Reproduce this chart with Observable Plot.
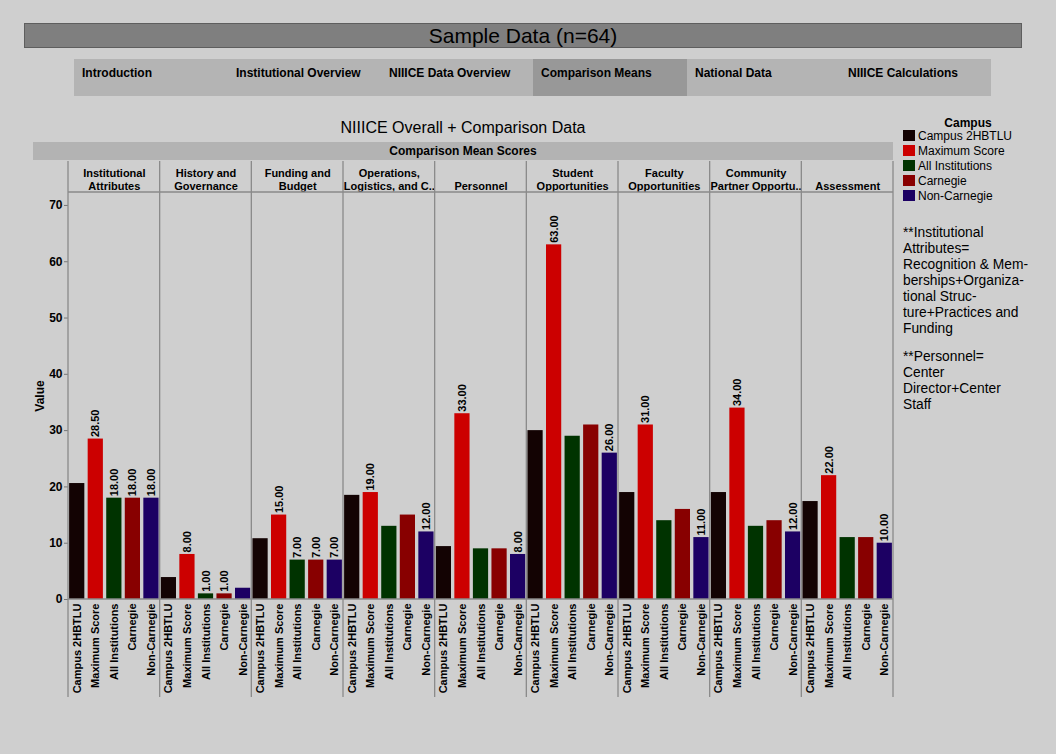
<!DOCTYPE html>
<html>
<head>
<meta charset="utf-8">
<script src="https://cdn.jsdelivr.net/npm/d3@7"></script>
<script src="https://cdn.jsdelivr.net/npm/@observablehq/plot@0.6"></script>
<style>
  html, body { margin: 0; padding: 0; background: #cfcfcf; }
  body { font-family: "Liberation Sans", Arial, Helvetica, sans-serif; color: #000; }
  #page { position: relative; width: 1056px; height: 754px; overflow: hidden; background: #cfcfcf; }
  .banner { position: absolute; left: 24px; top: 23px; width: 998px; height: 25px; box-sizing: border-box;
    background: #7f7f7f; border: 1px solid #5e5e5e; text-align: center; font-size: 21px; line-height: 23px; }
  .tab { position: absolute; top: 59px; height: 37px; background: #b4b4b4; box-sizing: border-box;
    font-weight: bold; font-size: 12px; line-height: 29px; padding-left: 8px; white-space: nowrap; }
  .tab.active { background: #989898; }
  .title { position: absolute; left: 33px; width: 860px; top: 119px; text-align: center; font-size: 16px; }
  .strip { position: absolute; left: 33px; top: 142px; width: 860px; height: 18px; background: #b3b3b3;
    text-align: center; font-weight: bold; font-size: 12px; line-height: 19px; }
  #chart { position: absolute; left: 0; top: 160px; }
  .legend-title { position: absolute; left: 903px; width: 130px; top: 116px; text-align: center; font-weight: bold; font-size: 12px; }
  .legend-item { position: absolute; left: 903px; height: 15px; font-size: 12px; line-height: 15px; white-space: nowrap; }
  .legend-item span.sw { display: inline-block; width: 12px; height: 11px; vertical-align: -1px; margin-right: 3px; }
  .note { position: absolute; left: 903px; width: 152px; font-size: 13.8px; line-height: 16px; }
</style>
</head>
<body>
<div id="page">
  <div class="banner" id="banner"></div>
  <div id="tabs"></div>
  <div class="title" id="title"></div>
  <div class="strip" id="strip"></div>
  <div id="chart"></div>
  <div id="legend"></div>
  <div id="notes"></div>
</div>
<script>
// ---------- data ----------
const pageTitle = "Sample Data (n=64)";
const tabNames = ["Introduction", "Institutional Overview", "NIIICE Data Overview", "Comparison Means", "National Data", "NIIICE Calculations"];
const activeTab = "Comparison Means";
const chartTitle = "NIIICE Overall + Comparison Data";
const stripTitle = "Comparison Mean Scores";
const legendTitle = "Campus";

const categories = ["Institutional Attributes", "History and Governance", "Funding and Budget",
  "Operations, Logistics, and C..", "Personnel", "Student Opportunities",
  "Faculty Opportunities", "Community Partner Opportu..", "Assessment"];
const headerLabels = ["Institutional\nAttributes", "History and\nGovernance", "Funding and\nBudget",
  "Operations,\nLogistics, and C..", "Personnel", "Student\nOpportunities",
  "Faculty\nOpportunities", "Community\nPartner Opportu..", "Assessment"];
const campuses = ["Campus 2HBTLU", "Maximum Score", "All Institutions", "Carnegie", "Non-Carnegie"];
const campusColors = ["#130303", "#cc0000", "#003300", "#880000", "#1c0063"];

const campus2HBTLU    = [20.6, 3.9, 10.8, 18.5, 9.4, 30.0, 19.0, 19.0, 17.4];
const maximumScore    = [28.5, 8, 15, 19, 33, 63, 31, 34, 22];
const allInstitutions = [18, 1, 7, 13, 9, 29, 14, 13, 11];
const carnegie        = [18, 1, 7, 15, 9, 31, 16, 14, 11];
const nonCarnegie     = [18, 2, 7, 12, 8, 26, 11, 12, 10];

// which bars carry a value label (1 = shown)
const labelCampus  = [0, 0, 0, 0, 0, 0, 0, 0, 0];
const labelMaximum = [1, 1, 1, 1, 1, 1, 1, 1, 1];
const labelAll     = [1, 1, 1, 0, 0, 0, 0, 0, 0];
const labelCarn    = [1, 1, 1, 0, 0, 0, 0, 0, 0];
const labelNonCarn = [1, 0, 1, 1, 1, 1, 1, 1, 1];

const yTicks = [0, 10, 20, 30, 40, 50, 60, 70];
const yLabel = "Value";

const note1 = ["**Institutional", "Attributes=", "Recognition & Mem-", "berships+Organiza-", "tional Struc-", "ture+Practices and", "Funding"];
const note2 = ["**Personnel=", "Center", "Director+Center", "Staff"];

// ---------- build table ----------
const seriesValues = [campus2HBTLU, maximumScore, allInstitutions, carnegie, nonCarnegie];
const seriesLabels = [labelCampus, labelMaximum, labelAll, labelCarn, labelNonCarn];
const data = [];
categories.forEach((cat, i) => {
  campuses.forEach((c, j) => {
    data.push({category: cat, campus: c, value: seriesValues[j][i], labeled: seriesLabels[j][i] === 1});
  });
});

// ---------- HTML chrome ----------
document.getElementById("banner").textContent = pageTitle;
const tabLefts = [74, 228, 381, 533, 687, 840, 991];
const tabsDiv = d3.select("#tabs");
tabNames.forEach((t, i) => {
  tabsDiv.append("div").attr("class", "tab" + (t === activeTab ? " active" : ""))
    .style("left", tabLefts[i] + "px").style("width", (tabLefts[i + 1] - tabLefts[i]) + "px")
    .text(t);
});
document.getElementById("title").textContent = chartTitle;
document.getElementById("strip").textContent = stripTitle;

const legend = d3.select("#legend");
legend.append("div").attr("class", "legend-title").text(legendTitle);
campuses.forEach((c, i) => {
  const item = legend.append("div").attr("class", "legend-item").style("top", (129 + i * 15) + "px");
  item.append("span").attr("class", "sw").style("background", campusColors[i]);
  item.append("span").text(c);
});
const notes = d3.select("#notes");
notes.append("div").attr("class", "note").style("top", "225px").html(note1.join("<br>"));
notes.append("div").attr("class", "note").style("top", "349px").html(note2.join("<br>"));

// ---------- Plot ----------
const W = 900, H = 539, mL = 68, mR = 7, mT = 32, mB = 100;
const plot = Plot.plot({
  width: W, height: H,
  marginLeft: mL, marginRight: mR, marginTop: mT, marginBottom: mB,
  style: {background: "transparent", fontFamily: "'Liberation Sans', Arial, sans-serif", fontSize: "11px", fontWeight: "bold", color: "#000"},
  fx: {domain: categories, paddingInner: 0, paddingOuter: 0, round: false, label: null},
  x: {domain: campuses, paddingInner: 0.18, paddingOuter: 0.06, round: false, label: null},
  y: {domain: [0, 72.3], label: null},
  color: {domain: campuses, range: campusColors},
  marks: [
    Plot.barY(data, {fx: "category", x: "campus", y: "value", fill: "campus"}),
    Plot.text(data.filter(d => d.labeled), {
      fx: "category", x: "campus", y: "value", text: d => d.value.toFixed(2),
      rotate: -90, textAnchor: "start", lineAnchor: "middle", dy: -2, fontSize: 11, fontWeight: "bold", fill: "#000"
    }),
    Plot.axisFx({anchor: "top", tickSize: 0, tickPadding: 3, label: null, lineHeight: 1.1,
      tickFormat: d => headerLabels[categories.indexOf(d)], fontSize: 11, fontWeight: "bold"}),
    Plot.axisX({anchor: "bottom", tickSize: 0, tickPadding: 4, tickRotate: -90, label: null, fontSize: 11, fontWeight: "bold"}),
    Plot.axisY({anchor: "left", ticks: yTicks, tickSize: 4, tickPadding: 2, stroke: "#777", fontSize: 12, fontWeight: "bold",
      label: yLabel, labelAnchor: "center", labelArrow: "none", labelOffset: 33})
  ]
});
document.getElementById("chart").appendChild(plot);

// grid / separators using the plot's own scales
const fxS = plot.scale("fx");
const yS = plot.scale("y");
const svg = d3.select(plot);
const g = svg.append("g").attr("stroke", "#8a8a8a").attr("stroke-width", 1.3);
const edges = categories.map(c => fxS.apply(c)).concat([fxS.apply(categories[categories.length - 1]) + fxS.bandwidth]);
edges.forEach(x => {
  g.append("line").attr("x1", x).attr("x2", x).attr("y1", 1).attr("y2", H - 2);
});
g.append("line").attr("x1", edges[0]).attr("x2", edges[edges.length - 1]).attr("y1", mT).attr("y2", mT);
g.append("line").attr("x1", edges[0]).attr("x2", edges[edges.length - 1]).attr("y1", yS.apply(0)).attr("y2", yS.apply(0));
</script>
</body>
</html>
